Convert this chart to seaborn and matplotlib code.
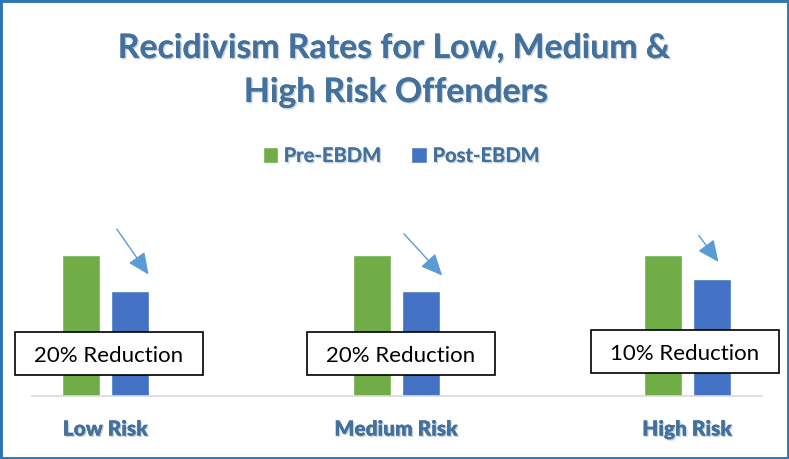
import seaborn as sns
import matplotlib.pyplot as plt
import matplotlib.patheffects as pe
from matplotlib.patches import Rectangle, Patch
import pandas as pd

# data (no axis, heights relative to Pre-EBDM = 100)
categories = ["Low Risk", "Medium Risk", "High Risk"]
pre_ebdm = [100, 100, 100]
post_ebdm = [74.5, 74.5, 83]
reductions = ["20% Reduction", "20% Reduction", "10% Reduction"]
series = ["Pre-EBDM", "Post-EBDM"]

df = pd.DataFrame({
    "risk": categories * 2,
    "rate": pre_ebdm + post_ebdm,
    "period": [series[0]] * 3 + [series[1]] * 3,
})

sns.set_theme(style="white")
plt.rcParams['font.family'] = ['Lato', 'DejaVu Sans']

W, H = 789, 459
fig = plt.figure(figsize=(W / 100, H / 100), dpi=100)
ax = fig.add_axes([32 / W, 1 - 396 / H, (762 - 32) / W, (396 - 200) / H])

green, blue = "#70AD47", "#4472C4"
txt_col = "#43719C"

sns.barplot(data=df, x="risk", y="rate", hue="period", palette=[green, blue],
            width=0.337, gap=0.22, ax=ax, legend=False, saturation=1)

ax.set_xlim(-0.253, 2.256)
ax.set_ylim(0, 100 * 196 / 141)
ax.set_xlabel("")
ax.set_ylabel("")
ax.set_yticks([])
for s in ["top", "right", "left"]:
    ax.spines[s].set_visible(False)
ax.spines["bottom"].set_color("#D9D9D9")
ax.spines["bottom"].set_linewidth(1.2)
ax.tick_params(axis="x", length=0, pad=17)
shadow = [pe.withSimplePatchShadow(offset=(1, -1), shadow_rgbFace="#8FA9C4", alpha=0.5), pe.Normal()]
for lab in ax.get_xticklabels():
    lab.set_fontweight("heavy")
    lab.set_fontsize(15)
    lab.set_color(txt_col)
    lab.set_path_effects(shadow)

# arrows pointing to the Post-EBDM bars
arrow_from = [(0.033, 120), (0.019, 116.5), (0.033, 115.5)]
arrow_to = [(0.153, 84.5), (0.163, 84), (0.112, 93.5)]
for i in range(3):
    ax.annotate("", xy=(i + arrow_to[i][0], arrow_to[i][1]),
                xytext=(i + arrow_from[i][0], arrow_from[i][1]),
                arrowprops=dict(arrowstyle="-|>,head_length=1.1,head_width=0.5",
                                color="#5B9BD5", lw=1.0))

# reduction boxes
box_centre = [(109, 353.5), (400.5, 353), (685, 351)]
for (cx, cy), txt in zip(box_centre, reductions):
    fig.patches.append(Rectangle(((cx - 94) / W, 1 - (cy + 21.5) / H), 188 / W, 43 / H,
                                 transform=fig.transFigure, facecolor="white",
                                 edgecolor="black", linewidth=1.2, zorder=5))
    fig.text(cx / W, 1 - (cy + 3) / H, txt, ha="center", va="center", fontsize=16,
             color="black", zorder=6)

# title
fig.text(0.5, 1 - 48 / H, "Recidivism Rates for Low, Medium &", ha="center", va="center",
         fontsize=24.3, fontweight="bold", color=txt_col, path_effects=shadow)
fig.text(0.502, 1 - 92 / H, "High Risk Offenders", ha="center", va="center",
         fontsize=24.3, fontweight="bold", color=txt_col, path_effects=shadow)

# legend
handles = [Patch(facecolor=green), Patch(facecolor=blue)]
leg = fig.legend(handles, series, loc="center", bbox_to_anchor=(401 / W, 1 - 156 / H),
                 ncol=2, frameon=False, handlelength=0.75, handleheight=0.85,
                 handletextpad=0.3, columnspacing=1.5,
                 prop={"weight": "bold", "size": 14.5})
for t in leg.get_texts():
    t.set_color(txt_col)
    t.set_path_effects(shadow)

fig.patches.append(Rectangle((0, 0), 1, 1, transform=fig.transFigure, fill=False,
                             edgecolor="#2E75B6", linewidth=3.5, zorder=10))

fig.savefig("out.png", dpi=100)
